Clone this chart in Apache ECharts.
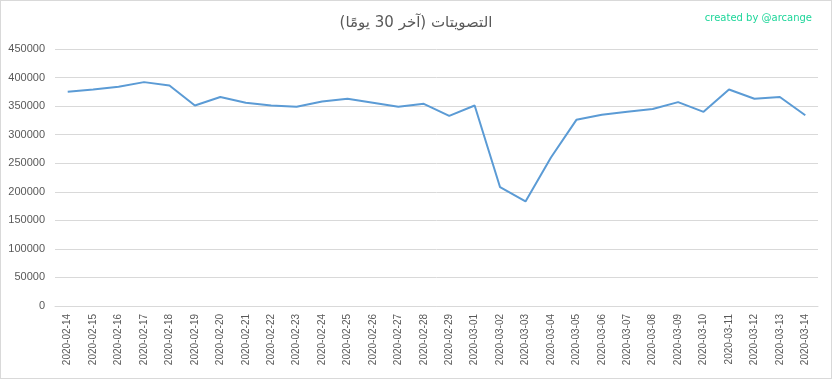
<!DOCTYPE html>
<html>
<head>
	<meta charset="utf-8">
	<title>votes</title>
	<style>
		html, body { margin: 0; padding: 0; background: #fff; }
		#container { width: 830px; height: 377px; border: 1px solid #d9d9d9; }
	</style>
</head>
<body>
<script type="text/javascript" src="https://cdn.jsdelivr.net/npm/echarts@6/dist/echarts.min.js"></script>
<div id="container"></div>
<script type="text/javascript">
    // dates (last 30 days)
    var days = ['2020-02-14','2020-02-15','2020-02-16','2020-02-17','2020-02-18','2020-02-19',
        '2020-02-20','2020-02-21','2020-02-22','2020-02-23','2020-02-24','2020-02-25',
        '2020-02-26','2020-02-27','2020-02-28','2020-02-29','2020-03-01','2020-03-02',
        '2020-03-03','2020-03-04','2020-03-05','2020-03-06','2020-03-07','2020-03-08',
        '2020-03-09','2020-03-10','2020-03-11','2020-03-12','2020-03-13','2020-03-14'];
    // votes per day
    var votes = [375000, 379000, 384000, 392000, 386000, 351000,
        366000, 356000, 351000, 349000, 358000, 363000,
        356000, 349000, 354000, 333000, 351000, 208000,
        183000, 260000, 326000, 335000, 340000, 345000,
        357000, 340000, 379000, 363000, 366000, 334000];

    var myChart = echarts.init(document.getElementById('container'));
    var option = {
        title: [{
            text: 'التصويتات (آخر 30 يومًا)',
            left: 'center',
            top: 10,
            textStyle: { fontFamily: 'DejaVu Sans', fontSize: 15, fontWeight: 'normal', color: '#595959' }
        }, {
            text: 'created by @arcange',
            right: 14,
            top: 7,
            textStyle: { fontFamily: 'DejaVu Sans', fontSize: 10, fontWeight: 'normal', color: '#1ed69a' }
        }],
        grid: { left: 54, right: 13, top: 48, bottom: 72 },
        xAxis: {
            type: 'category',
            data: days,
            boundaryGap: true,
            axisLine: { lineStyle: { color: '#d9d9d9' } },
            axisTick: { show: false },
            axisLabel: { rotate: 90, interval: 0, fontSize: 10, color: '#595959', fontFamily: 'Liberation Sans', margin: 8 }
        },
        yAxis: {
            type: 'value',
            min: 0,
            max: 450000,
            interval: 50000,
            axisLine: { show: false },
            axisTick: { show: false },
            axisLabel: {
                fontSize: 11, color: '#595959', fontFamily: 'Liberation Sans', margin: 10,
                formatter: function (v) { return String(v); }
            },
            splitLine: { lineStyle: { color: '#d9d9d9' } }
        },
        series: [{
            type: 'line',
            data: votes,
            symbol: 'none',
            animation: false,
            lineStyle: { color: '#5b9bd5', width: 2 }
        }]
    };
    myChart.setOption(option);
    window.addEventListener('resize', myChart.resize);
</script>
</body>
</html>
